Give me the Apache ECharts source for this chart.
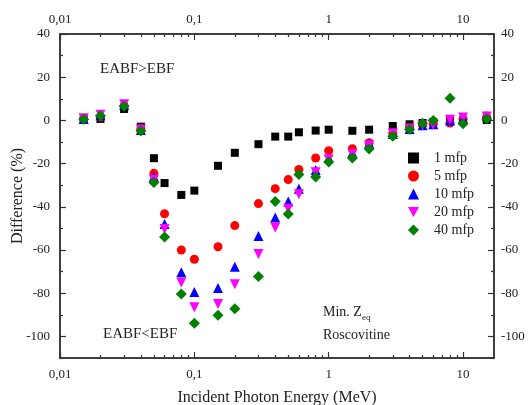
<!DOCTYPE html>
<html>
<head>
<meta charset="utf-8">
<script src="https://cdn.jsdelivr.net/npm/echarts@6/dist/echarts.min.js"></script>
<style>
  html, body { margin: 0; padding: 0; background: #fff; }
  #chart { width: 528px; height: 405px; }
</style>
</head>
<body>
<div id="chart"></div>
<script>
// photon energies (MeV)
const energy = [0.015, 0.02, 0.03, 0.04, 0.05, 0.06, 0.08, 0.1, 0.15, 0.2, 0.3, 0.4, 0.5, 0.6, 0.8, 1, 1.5, 2, 3, 4, 5, 6, 8, 10, 15]

// difference (%) per penetration depth
const mfp1 = [0.8, 0.7, 5.3, -2.9, -17.5, -29, -34.5, -32.5, -21, -15, -11, -7.5, -7.5, -5.5, -4.7, -4.3, -4.8, -4.3, -2.6, -1.8, -1.2, -0.8, -0.3, 0, 0.2]
const mfp5 = [0.6, 1.5, 6.8, -4, -24.5, -43.2, -60, -64.3, -58.5, -48.7, -38.5, -31.6, -27.4, -22.7, -17.4, -14, -13.1, -10.3, -6, -3.5, -2, -1.5, -1.2, 0.5, 1.5]
const mfp10 = [0.6, 2.4, 7.3, -4.5, -26, -48, -70.3, -79.4, -77.6, -67.7, -53.5, -45, -37.6, -31.6, -23, -17.4, -15, -10.6, -6.3, -4, -2.2, -1.8, 0, 1, 2]
const mfp20 = [1, 2.6, 7.5, -4.2, -27.5, -50.3, -75.1, -86.5, -85, -75.9, -61.8, -49.6, -40.9, -34.2, -24, -18, -15.5, -11.5, -6, -3.8, -2.4, -2, 0.3, 1.4, 1.8]
const mfp40 = [0.5, 2.2, 6.5, -4.9, -28.7, -54, -80.4, -93.9, -90.2, -87.2, -72.3, -37.5, -43.3, -25, -26.2, -19.3, -17.4, -13.2, -7.3, -4.2, -1.3, 0, 10.2, -1.5, 0.6]

const xMajor = [0.01, 0.1, 1, 10]
const xMinor = [0.02, 0.03, 0.04, 0.05, 0.06, 0.07, 0.08, 0.09, 0.2, 0.3, 0.4, 0.5, 0.6, 0.7, 0.8, 0.9, 2, 3, 4, 5, 6, 7, 8, 9]
const yMajor = [-100, -80, -60, -40, -20, 0, 20, 40]
const yMinor = [-110, -90, -70, -50, -30, -10, 10, 30]

const font = 'Liberation Serif'
const axisColor = '#333'
const downTriangle = 'path://M0,0L10,0L5,9Z'

function xAxisOf(position, major, showLabel) {
  return {
    type: 'log',
    logBase: 10,
    position: position,
    offset: 0,
    min: 0.01,
    max: 17,
    axisLine: { show: true, onZero: false, lineStyle: { color: axisColor, width: 1.5 } },
    axisTick: {
      show: true,
      inside: true,
      length: major ? 6 : 3,
      customValues: major ? xMajor : xMinor,
      lineStyle: { color: axisColor, width: 1.2 }
    },
    axisLabel: {
      show: showLabel,
      customValues: xMajor,
      margin: position === 'top' ? 8 : 10,
      fontFamily: font,
      fontSize: 13,
      color: '#222',
      formatter: v => String(v).replace('.', ',')
    },
    splitLine: { show: false }
  }
}

function yAxisOf(position, major, showLabel) {
  return {
    type: 'value',
    position: position,
    offset: 0,
    min: -110,
    max: 40,
    axisLine: { show: true, onZero: false, lineStyle: { color: axisColor, width: 1.5 } },
    axisTick: {
      show: true,
      inside: true,
      length: major ? 6 : 3,
      customValues: major ? yMajor : yMinor,
      lineStyle: { color: axisColor, width: 1.2 }
    },
    axisLabel: {
      show: showLabel,
      customValues: yMajor,
      margin: position === 'left' ? 10 : 7,
      fontFamily: font,
      fontSize: 13,
      color: '#222'
    },
    splitLine: { show: false }
  }
}

function series(name, values, symbol, size, color) {
  return {
    name: name,
    type: 'scatter',
    xAxisIndex: 0,
    yAxisIndex: 0,
    symbol: symbol,
    symbolSize: size,
    itemStyle: { color: color, opacity: 1 },
    data: energy.map((e, i) => [e, values[i]])
  }
}

let myChart = echarts.init(document.getElementById('chart'))
myChart.setOption({
  animation: false,
  backgroundColor: '#fff',
  grid: { left: 60, right: 34, top: 34, bottom: 47, containLabel: false, outerBoundsMode: 'none' },
  xAxis: [
    Object.assign(xAxisOf('bottom', true, true), {
      name: 'Incident Photon Energy (MeV)',
      nameLocation: 'middle',
      nameGap: 32,
      nameMoveOverlap: false,
      nameTextStyle: { fontFamily: font, fontSize: 16, color: '#222' }
    }),
    xAxisOf('bottom', false, false),
    xAxisOf('top', true, true),
    xAxisOf('top', false, false)
  ],
  yAxis: [
    Object.assign(yAxisOf('left', true, true), {
      name: 'Difference (%)',
      nameLocation: 'middle',
      nameGap: 34,
      nameMoveOverlap: false,
      nameTextStyle: { fontFamily: font, fontSize: 16, color: '#222' }
    }),
    yAxisOf('left', false, false),
    yAxisOf('right', true, true),
    yAxisOf('right', false, false)
  ],
  legend: {
    orient: 'vertical',
    left: 403,
    top: 146,
    itemWidth: 11,
    itemHeight: 11,
    itemGap: 4,
    textStyle: { fontFamily: font, fontSize: 14, color: '#222', padding: [0, 0, 0, 10] },
    data: ['1 mfp', '5 mfp', '10 mfp', { name: '20 mfp', icon: downTriangle }, '40 mfp']
  },
  graphic: [
    { type: 'text', left: 100, top: 62, style: { text: 'EABF>EBF', font: '15px "Liberation Serif"', fill: '#222' } },
    { type: 'text', left: 103, top: 327, style: { text: 'EABF<EBF', font: '15px "Liberation Serif"', fill: '#222' } },
    { type: 'text', left: 323, top: 305, style: { text: 'Min. Z', font: '14px "Liberation Serif"', fill: '#222' } },
    { type: 'text', left: 362, top: 313, style: { text: 'eq', font: '9px "Liberation Serif"', fill: '#222' } },
    { type: 'text', left: 323, top: 328, style: { text: 'Roscovitine', font: '14px "Liberation Serif"', fill: '#222' } }
  ],
  series: [
    series('1 mfp', mfp1, 'rect', 8, '#000000'),
    series('5 mfp', mfp5, 'circle', 9, '#ff0000'),
    series('10 mfp', mfp10, 'triangle', 10, '#0000ff'),
    series('20 mfp', mfp20, downTriangle, 10, '#ff00ff'),
    series('40 mfp', mfp40, 'diamond', 11, '#008000')
  ]
})
</script>
</body>
</html>
